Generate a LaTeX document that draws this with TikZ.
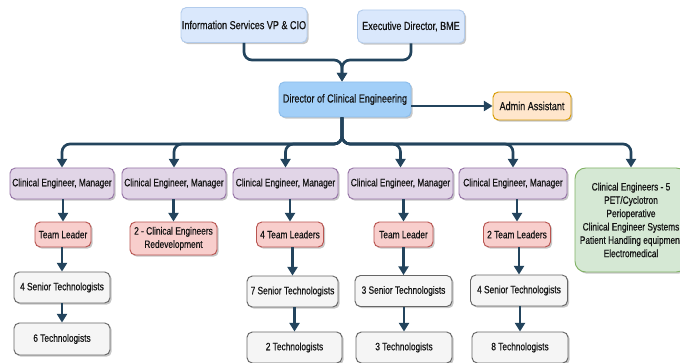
\documentclass[tikz,border=0pt]{standalone}
\usepackage{fontspec}
\setmainfont[FakeStretch=0.78, FakeBold=0.45]{Liberation Sans}
\usetikzlibrary{arrows.meta,shadows}

\definecolor{linkblue}{HTML}{23445D}
\definecolor{topfill}{HTML}{DAE8FC}\definecolor{topdraw}{HTML}{B3CCEC}
\definecolor{dirfill}{HTML}{A2CFF8}\definecolor{dirdraw}{HTML}{8DBDEB}
\definecolor{admfill}{HTML}{FFE6CC}\definecolor{admdraw}{HTML}{D79B00}
\definecolor{mgrfill}{HTML}{E1D5E7}\definecolor{mgrdraw}{HTML}{9673A6}
\definecolor{tlfill}{HTML}{F8CECC}\definecolor{tldraw}{HTML}{B85450}
\definecolor{stfill}{HTML}{F5F5F5}\definecolor{stdraw}{HTML}{666666}
\definecolor{grfill}{HTML}{D5E8D4}\definecolor{grdraw}{HTML}{82B366}
\definecolor{ink}{HTML}{141414}

\tikzset{
  sz/.style n args={2}{minimum width=#1*0.75pt, minimum height=#2*0.75pt},
  box/.style={rectangle, rounded corners=4pt, line width=0.7pt, inner sep=0pt,
    align=center, text=ink, font=\fontsize{8}{10}\selectfont,
    drop shadow={shadow xshift=1.3pt, shadow yshift=-1.3pt, fill=black, opacity=0.22}},
  bigtext/.style={font=\fontsize{8.7}{10.5}\selectfont},
  topbox/.style={box, bigtext, fill=topfill, draw=topdraw},
  dirbox/.style={box, bigtext, fill=dirfill, draw=dirdraw},
  admbox/.style={box, bigtext, fill=admfill, draw=admdraw},
  mgrbox/.style={box, fill=mgrfill, draw=mgrdraw},
  tlbox/.style={box, fill=tlfill, draw=tldraw},
  stbox/.style={box, fill=stfill, draw=stdraw},
  grbox/.style={box, fill=grfill, draw=grdraw, rounded corners=8pt},
  conn/.style={draw=linkblue, line width=2pt, rounded corners=6pt},
  arr/.style={conn, -{Triangle[length=6.5pt,width=7.5pt]}},
}

\begin{document}
\begin{tikzpicture}[x=0.75pt, y=-0.75pt]
\useasboundingbox (0,0) rectangle (680,363);

% top level
\node[topbox, sz={126}{35}] (info) at (244,25) {Information Services VP \& CIO};
\node[topbox, sz={107}{33}] (exec) at (411,26.5) {Executive Director, BME};
\node[dirbox, sz={132}{35}] (dir)  at (345,99.5) {Director of Clinical Engineering};
\node[admbox, sz={78}{28}]  (adm)  at (532,106) {Admin Assistant};

% managers
\node[mgrbox, sz={104}{31}] (m1) at (62,183.5)  {Clinical Engineer, Manager};
\node[mgrbox, sz={104}{31}] (m2) at (174,183.5) {Clinical Engineer, Manager};
\node[mgrbox, sz={105}{31}] (m3) at (285.5,183.5) {Clinical Engineer, Manager};
\node[mgrbox, sz={105}{31}] (m4) at (400.5,183.5) {Clinical Engineer, Manager};
\node[mgrbox, sz={108}{31}] (m5) at (513,183.5) {Clinical Engineer, Manager};
\node[grbox, sz={112}{104}] (ce) at (631,220) {Clinical Engineers - 5\\PET/Cyclotron\\Perioperative\\Clinical Engineer Systems\\Patient Handling equipment\\Electromedical};

% team leaders
\node[tlbox, sz={56}{25}] (t1) at (63,234.5)    {Team Leader};
\node[tlbox, sz={87}{33}] (t2) at (173.5,238.5) {2 - Clinical Engineers\\Redevelopment};
\node[tlbox, sz={67}{25}] (t3) at (290,234.5)   {4 Team Leaders};
\node[tlbox, sz={59}{25}] (t4) at (403.5,234.5) {Team Leader};
\node[tlbox, sz={67}{25}] (t5) at (517,234.5)   {2 Team Leaders};

% senior technologists
\node[stbox, sz={96}{31}] (s1) at (62,287.5)    {4 Senior Technologists};
\node[stbox, sz={91}{31}] (s3) at (292.5,291.5) {7 Senior Technologists};
\node[stbox, sz={97}{31}] (s4) at (403.5,291)   {3 Senior Technologists};
\node[stbox, sz={97}{31}] (s5) at (519,290.5)   {4 Senior Technologists};

% technologists
\node[stbox, sz={96}{32}] (g1) at (62,339)      {6 Technologists};
\node[stbox, sz={95}{31}] (g3) at (294.5,347.5) {2 Technologists};
\node[stbox, sz={96}{31}] (g4) at (404,347.5)   {3 Technologists};
\node[stbox, sz={96}{31}] (g5) at (520,347.5)   {8 Technologists};

% reporting lines into the director
\coordinate (mg) at (342,60);
\draw[arr] (info.south) |- (mg) -- (dir.north -| mg);
\draw[arr] (exec.south) |- (mg) -- (dir.north -| mg);
\draw[arr] (dir.east |- adm.west) -- (adm.west);

% bus to the managers
\coordinate (jn) at (342,144);
\foreach \m in {m1,m2,m3,m4,m5,ce}
  \draw[arr] (dir.south -| jn) -- (jn) -| (\m.north);

% columns
\foreach \a/\b in {m1/t1,m2/t2,m3/t3,m4/t4,m5/t5,t1/s1,t3/s3,t4/s4,t5/s5,s1/g1,s3/g3,s4/g4,s5/g5}
  \draw[arr] (\b.north |- \a.south) -- (\b.north);
\end{tikzpicture}
\end{document}
